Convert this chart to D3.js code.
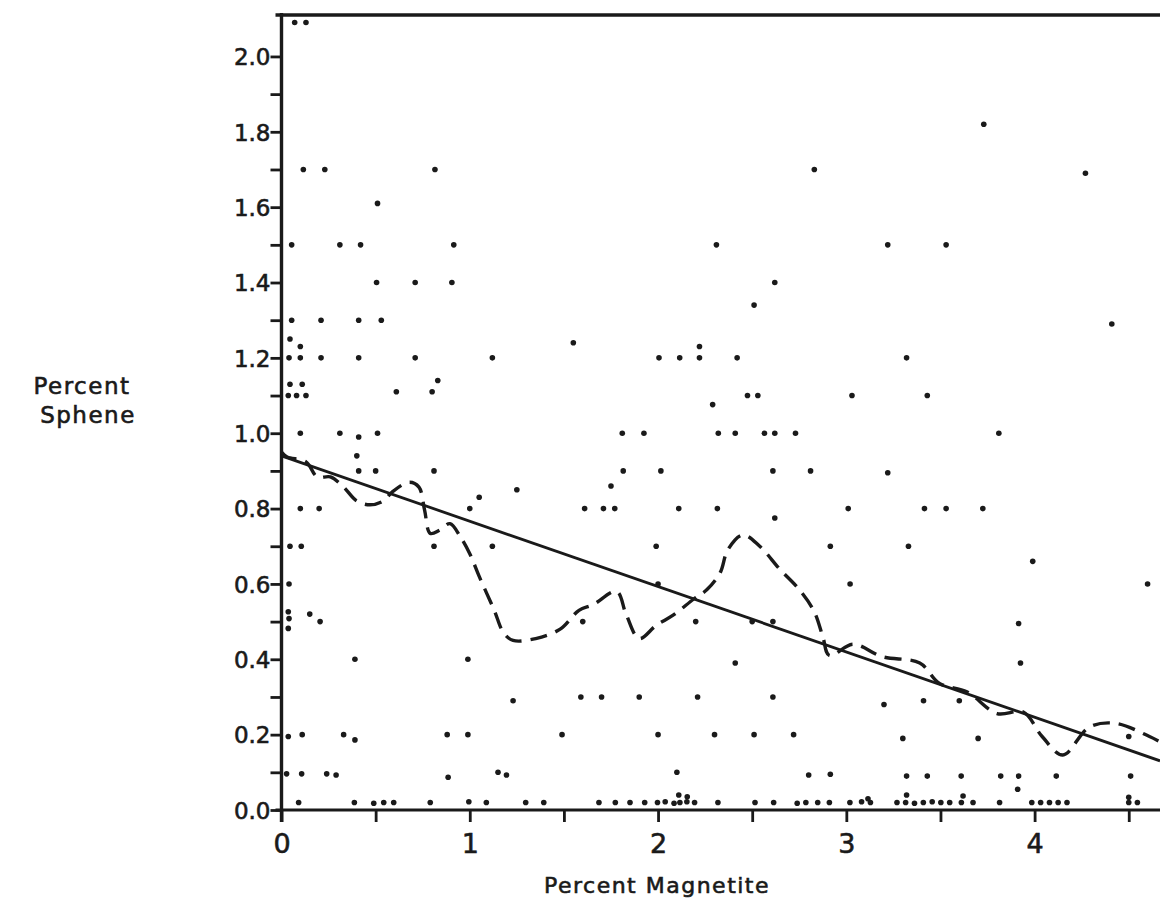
<!DOCTYPE html>
<html>
<head>
<meta charset="utf-8">
<script src="https://cdn.jsdelivr.net/npm/d3@7"></script>
<style>
  body { margin: 0; background: #fff; }
  text { font-family: 'DejaVu Sans', sans-serif; fill: #1a1a1a; stroke: #1a1a1a; stroke-width: 0.6px; }
</style>
</head>
<body>
<script>
// ! Data
const magnetite = [
  0.07, 0.13, 0.116, 0.23, 0.815, 0.51, 0.054, 0.31, 0.42, 0.915,
  0.505, 0.71, 0.905, 0.054, 0.21, 0.41, 0.53, 0.045, 0.10,
  0.04, 0.10, 0.21, 0.41, 0.71, 1.12, 0.045, 0.11,
  0.036, 0.08, 0.13, 0.61, 0.80, 0.83, 0.10, 0.31, 0.41, 0.51, 0.40,
  0.41, 0.50, 0.81, 1.05, 1.0, 1.25, 0.10, 0.20, 0.045, 0.105,
  0.81, 1.12, 0.04, 0.036, 0.04, 0.036, 0.15, 0.205, 0.39, 0.99, 1.23,
  0.036, 0.11, 0.33, 0.39, 0.88, 0.99,
  0.027, 0.107, 0.24, 0.29, 0.885, 1.15, 1.195,
  // bottom row
  0.091, 0.387, 0.49, 0.543, 0.596, 0.79, 0.995, 1.088, 1.297, 1.393,
  1.686, 1.773, 1.851, 1.929, 1.997, 2.038, 2.085, 2.116, 2.153, 2.194,
  2.318, 2.515, 2.614, 2.739, 2.785, 2.848, 2.91, 3.019, 3.081, 3.128,
  3.269, 3.315, 3.362, 3.409, 3.456, 3.502, 3.549, 3.611, 3.673, 3.814,
  3.985, 4.032, 4.079, 4.125, 4.172, 4.5, 4.546,
  2.10, 2.11, 2.155, 2.80, 2.915, 3.32, 3.62, 3.91, 4.50, 3.115,
  // middle
  2.83, 2.31, 2.62, 2.51, 1.55, 2.22, 2.005, 2.115, 2.22, 2.42,
  2.475, 2.53, 3.03, 2.29, 1.81, 1.925, 2.32, 2.41, 2.565, 2.62, 2.73,
  1.815, 2.015, 1.75, 2.61, 2.81, 1.61, 1.71, 1.77, 2.11, 2.315, 2.62, 3.01,
  1.99, 2.915,
  3.02, 1.60, 2.20, 2.50, 2.61, 2.0, 2.41, 1.59, 1.70, 1.90, 2.21, 2.61,
  1.49, 2.0, 2.30, 2.51, 2.72,
  // right
  3.33, 3.99, 4.60, 3.915, 3.925, 3.20, 3.41, 3.60, 3.30, 3.70, 4.50,
  3.32, 3.43, 3.61, 3.82, 3.915, 4.115, 4.51,
  3.73, 4.27, 3.22, 3.53, 4.41, 3.32, 3.43, 3.81, 3.22, 3.415, 3.53, 3.725,
];
const sphene = [
  2.09, 2.09, 1.70, 1.70, 1.70, 1.61, 1.50, 1.50, 1.50, 1.50,
  1.40, 1.40, 1.40, 1.30, 1.30, 1.30, 1.30, 1.25, 1.23,
  1.20, 1.20, 1.20, 1.20, 1.20, 1.20, 1.13, 1.13,
  1.10, 1.10, 1.10, 1.11, 1.11, 1.14, 1.00, 1.00, 0.99, 1.00, 0.94,
  0.90, 0.90, 0.90, 0.83, 0.80, 0.85, 0.80, 0.80, 0.70, 0.70,
  0.70, 0.70, 0.60, 0.526, 0.508, 0.482, 0.52, 0.50, 0.40, 0.40, 0.29,
  0.195, 0.20, 0.20, 0.186, 0.20, 0.20,
  0.096, 0.096, 0.096, 0.093, 0.087, 0.10, 0.093,
  // bottom row
  0.02, 0.02, 0.018, 0.02, 0.02, 0.02, 0.022, 0.02, 0.02, 0.02,
  0.02, 0.02, 0.02, 0.02, 0.02, 0.022, 0.018, 0.02, 0.022, 0.02,
  0.02, 0.02, 0.02, 0.018, 0.02, 0.02, 0.02, 0.02, 0.022, 0.02,
  0.02, 0.02, 0.018, 0.02, 0.022, 0.02, 0.02, 0.02, 0.02, 0.02,
  0.02, 0.02, 0.02, 0.02, 0.02, 0.02, 0.02,
  0.10, 0.04, 0.035, 0.093, 0.095, 0.04, 0.037, 0.055, 0.034, 0.03,
  // middle
  1.70, 1.50, 1.40, 1.34, 1.24, 1.23, 1.20, 1.20, 1.20, 1.20,
  1.10, 1.10, 1.10, 1.076, 1.00, 1.00, 1.00, 1.00, 1.00, 1.00, 1.00,
  0.90, 0.90, 0.86, 0.90, 0.90, 0.80, 0.80, 0.80, 0.80, 0.80, 0.775, 0.80,
  0.70, 0.70,
  0.60, 0.50, 0.50, 0.50, 0.50, 0.60, 0.39, 0.30, 0.30, 0.30, 0.30, 0.30,
  0.20, 0.20, 0.20, 0.20, 0.20,
  // right
  0.70, 0.66, 0.60, 0.495, 0.39, 0.28, 0.29, 0.29, 0.19, 0.19, 0.195,
  0.09, 0.09, 0.09, 0.09, 0.09, 0.09, 0.09,
  1.82, 1.69, 1.50, 1.50, 1.29, 1.20, 1.10, 1.00, 0.895, 0.80, 0.80, 0.80,
];

// * smoothed (dashed) curve
const curveX = [0.00, 0.03, 0.13, 0.19, 0.26, 0.33, 0.40, 0.47, 0.54, 0.59, 0.68, 0.73, 0.76, 0.79,
  0.84, 0.895, 0.95, 1.0, 1.05, 1.13, 1.18, 1.23, 1.35, 1.48, 1.58, 1.655, 1.78, 1.83, 1.90, 1.99,
  2.08, 2.19, 2.26, 2.33, 2.37, 2.45, 2.54, 2.645, 2.75, 2.83, 2.875, 2.91, 3.035, 3.19, 3.39,
  3.495, 3.64, 3.80, 3.94, 4.04, 4.15, 4.29, 4.43, 4.61, 4.67];
const curveY = [0.95, 0.937, 0.924, 0.884, 0.884, 0.857, 0.82, 0.81, 0.82, 0.845, 0.87, 0.857, 0.796, 0.734,
  0.743, 0.76, 0.725, 0.68, 0.62, 0.53, 0.47, 0.45, 0.455, 0.48, 0.53, 0.545, 0.58, 0.52, 0.455, 0.49,
  0.517, 0.56, 0.585, 0.63, 0.69, 0.73, 0.70, 0.64, 0.585, 0.526, 0.46, 0.41, 0.44, 0.407, 0.39,
  0.336, 0.314, 0.256, 0.26, 0.195, 0.146, 0.22, 0.23, 0.195, 0.18];

// * regression line
const intercept = 0.94;
const slope = -0.1735;

const yTicks = d3.range(0, 21).map((i) => i / 10);
const xTicks = d3.range(0, 10).map((i) => i / 2);

// ! Drawing
const width = 1160;
const height = 903;
const svg = d3.select('body').append('svg')
  .attr('width', width)
  .attr('height', height);

const x = d3.scaleLinear().domain([0, 4.666]).range([281.5, 1160]);
const y = d3.scaleLinear().domain([0, 2.11]).range([810, 15]);

svg.append('defs').append('clipPath').attr('id', 'plot')
  .append('rect')
  .attr('x', x(0))
  .attr('y', y(2.11))
  .attr('width', width - x(0))
  .attr('height', y(0) - y(2.11));

// * axes
const yAxis = d3.axisLeft(y)
  .tickValues(yTicks)
  .tickSize(11)
  .tickSizeOuter(0)
  .tickFormat((d) => (Math.round(d * 10) % 2 === 0 ? d3.format('.1f')(d) : ''));
const gy = svg.append('g')
  .attr('transform', `translate(${x(0)},0)`)
  .call(yAxis);
gy.select('.domain').remove();
gy.selectAll('line').attr('stroke', '#1a1a1a').attr('stroke-width', 2.8);
gy.selectAll('text').attr('font-size', 23).attr('dx', 3).attr('dy', '0.36em');

const xAxis = d3.axisBottom(x)
  .tickValues(xTicks)
  .tickSize(12)
  .tickSizeOuter(0)
  .tickFormat((d) => (d % 1 === 0 ? d : ''));
const gx = svg.append('g')
  .attr('transform', `translate(0,${y(0)})`)
  .call(xAxis);
gx.select('.domain').remove();
gx.selectAll('line').attr('stroke', '#1a1a1a').attr('stroke-width', 2.8);
gx.selectAll('text').attr('font-size', 27).attr('dy', '1.05em');

// frame lines
svg.append('line')
  .attr('x1', x(0)).attr('x2', x(0))
  .attr('y1', y(2.11) - 2).attr('y2', y(0) + 12)
  .attr('stroke', '#1a1a1a').attr('stroke-width', 3.4);
svg.append('line')
  .attr('x1', x(0) - 6).attr('x2', width)
  .attr('y1', y(0)).attr('y2', y(0))
  .attr('stroke', '#1a1a1a').attr('stroke-width', 3.2);
svg.append('line')
  .attr('x1', x(0) - 6).attr('x2', width)
  .attr('y1', y(2.11)).attr('y2', y(2.11))
  .attr('stroke', '#1a1a1a').attr('stroke-width', 3.6);

const plot = svg.append('g').attr('clip-path', 'url(#plot)');

// * scatter points
plot.selectAll('circle')
  .data(d3.zip(magnetite, sphene))
  .enter()
  .append('circle')
  .attr('cx', (d) => x(d[0]))
  .attr('cy', (d) => y(d[1]))
  .attr('r', 2.8)
  .attr('fill', '#1a1a1a');

// * regression line
plot.append('line')
  .attr('x1', x(0)).attr('y1', y(intercept))
  .attr('x2', x(4.666)).attr('y2', y(intercept + slope * 4.666))
  .attr('stroke', '#1a1a1a')
  .attr('stroke-width', 2.8);

// * dashed smoothed curve
const line = d3.line()
  .x((d) => x(d[0]))
  .y((d) => y(d[1]))
  .curve(d3.curveCatmullRom);
plot.append('path')
  .attr('d', line(d3.zip(curveX, curveY)))
  .attr('fill', 'none')
  .attr('stroke', '#1a1a1a')
  .attr('stroke-width', 3.4)
  .attr('stroke-dasharray', '17,9');

// * axis titles
svg.append('text')
  .attr('x', 657)
  .attr('y', 893)
  .attr('text-anchor', 'middle')
  .attr('font-size', 22)
  .attr('letter-spacing', 1.5)
  .text('Percent Magnetite');
const yt = svg.append('text')
  .attr('text-anchor', 'middle')
  .attr('font-size', 23)
  .attr('letter-spacing', 1.5);
yt.append('tspan').attr('x', 82).attr('y', 394).text('Percent');
yt.append('tspan').attr('x', 88).attr('y', 423).text('Sphene');
</script>
</body>
</html>
